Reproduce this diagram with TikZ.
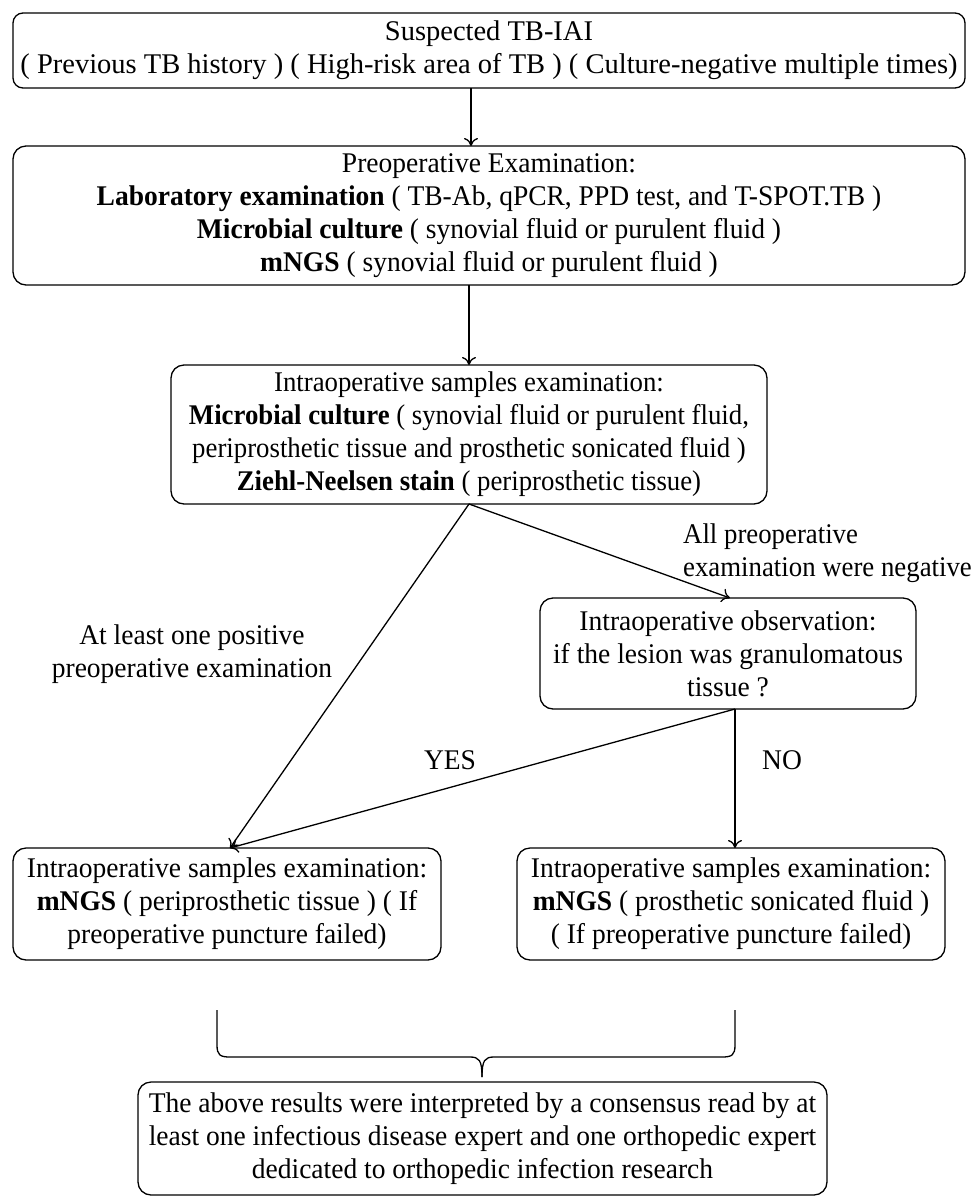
\documentclass[tikz,border=0pt]{standalone}
\usepackage{fontspec}
\setmainfont[FakeStretch=0.965]{Liberation Serif}
\newfontfamily\widefont{Liberation Serif}
\newfontfamily\narrowfont[FakeStretch=0.94]{Liberation Serif}
\usetikzlibrary{arrows.meta,calc}
\begin{document}
\begin{tikzpicture}[x=1pt,y=-1pt,
  box/.style={draw,line width=1.3pt,rounded corners=13pt,align=center,inner sep=0pt,
    font=\fontsize{28.5}{33}\selectfont},
  lbl/.style={inner sep=0pt,font=\fontsize{28.5}{33}\selectfont},
  arr/.style={line width=1.3pt,-{To[length=8pt,width=14pt]}},
  lin/.style={line width=1.3pt}]
\useasboundingbox (0,0) rectangle (974,1203);
\node[box,rounded corners=10pt,minimum width=952pt,minimum height=75pt,font=\fontsize{28.5}{33}\widefont] (b1) at (489,50.5)
  {Suspected TB-IAI\\( Previous TB history ) ( High-risk area of TB ) ( Culture-negative multiple times)};
\node[box,minimum width=952pt,minimum height=139pt] (b2) at (489,215.5)
  {Preoperative Examination:\\\textbf{Laboratory examination} ( TB-Ab, qPCR, PPD test, and T-SPOT.TB )\\\textbf{Microbial culture} ( synovial fluid or purulent fluid )\\\textbf{mNGS} ( synovial fluid or purulent fluid )};
\node[box,minimum width=596pt,minimum height=139pt,font=\fontsize{28.5}{33}\narrowfont] (b3) at (469,434.5)
  {Intraoperative samples examination:\\\textbf{Microbial culture} ( synovial fluid or purulent fluid,\\periprosthetic tissue and prosthetic sonicated fluid )\\\textbf{Ziehl-Neelsen stain} ( periprosthetic tissue)};
\node[box,minimum width=376pt,minimum height=111pt] (b4) at (728,653.5)
  {Intraoperative observation:\\if the lesion was granulomatous\\tissue ?};
\node[box,minimum width=428pt,minimum height=112pt] (b5) at (227,904)
  {Intraoperative samples examination:\\\textbf{mNGS} ( periprosthetic tissue ) ( If\\preoperative puncture failed)};
\node[box,minimum width=428pt,minimum height=112pt] (b6) at (731,904)
  {Intraoperative samples examination:\\\textbf{mNGS} ( prosthetic sonicated fluid )\\( If preoperative puncture failed)};
\node[box,minimum width=689pt,minimum height=113pt] (b7) at (482.5,1138.5)
  {The above results were interpreted by a consensus read by at\\least one infectious disease expert and one orthopedic expert\\dedicated to orthopedic infection research};
% labels
\node[lbl,align=left,anchor=west,font=\fontsize{28.5}{33}\narrowfont] (lneg) at (683,553) {All preoperative\\examination were negative};
\node[lbl,align=center] (lpos) at (192,654) {At least one positive\\preoperative examination};
\node[lbl] (lyes) at (450,760) {YES};
\node[lbl] (lno) at (782,760) {NO};
% coordinates
\coordinate (a1s) at (471,88);
\coordinate (a1e) at (471,146);
\coordinate (a2s) at (469,285);
\coordinate (a2e) at (469,365);
\coordinate (b3s) at (469,504);
\coordinate (b4n) at (730,598);
\coordinate (b5n) at (230,848);
\coordinate (b4s) at (735,709);
\coordinate (b6n) at (735,848);
\draw[arr] (a1s) -- (a1e);
\draw[arr] (a2s) -- (a2e);
\draw[arr] (b3s) -- (b5n);
\draw[arr] (b3s) -- (b4n);
\draw[arr] (b4s) -- (b5n);
\draw[arr] (b4s) -- (b6n);
% brace
\coordinate (brl) at (217,1010);
\coordinate (brr) at (735,1010);
\coordinate (brt) at (482,1077);
\draw[lin] (brl) -- (217,1045) .. controls (217,1055) and (220,1057) .. (230,1057)
  -- (470,1057) .. controls (479,1057) and (482,1060) .. (brt);
\draw[lin] (brr) -- (735,1045) .. controls (735,1055) and (732,1057) .. (722,1057)
  -- (494,1057) .. controls (485,1057) and (482,1060) .. (brt);
\end{tikzpicture}
\end{document}
